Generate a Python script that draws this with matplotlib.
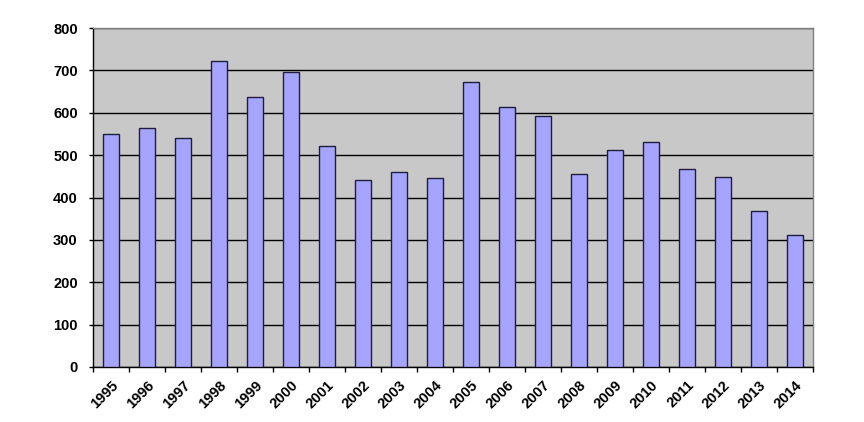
import matplotlib
matplotlib.use("Agg")
import matplotlib.pyplot as plt
import numpy as np

years = ["1995", "1996", "1997", "1998", "1999", "2000", "2001", "2002", "2003", "2004",
         "2005", "2006", "2007", "2008", "2009", "2010", "2011", "2012", "2013", "2014"]
values = [550, 565, 540, 722, 638, 695, 521, 441, 459, 445,
          673, 614, 593, 455, 513, 531, 468, 448, 368, 312]
yticks = [0, 100, 200, 300, 400, 500, 600, 700, 800]

plt.rcParams['font.family'] = ['Liberation Sans', 'DejaVu Sans']

fig = plt.figure(figsize=(8.64, 4.22), dpi=100)
ax = fig.add_axes([93/864, 1-367/422, 720/864, 339/422])
ax.set_facecolor('#C8C8C8')

x = np.arange(len(years))
ax.bar(x, values, width=0.42, color='#A5A5FF', edgecolor='#1E1E3C', linewidth=1.0, zorder=3)

ax.set_xlim(-0.5, len(years) - 0.5)
ax.set_ylim(0, 800)
ax.set_yticks(yticks)
ax.set_yticklabels([str(v) for v in yticks], fontsize=10.5, fontweight='bold')
ax.yaxis.grid(True, color='black', linewidth=1.0, zorder=1)
ax.set_axisbelow(True)

ax.set_xticks(x)
ax.set_xticklabels(years, rotation=45, ha='right', rotation_mode='anchor',
                   fontsize=10.5, fontweight='bold')
ax.tick_params(axis='x', which='major', length=0, pad=8)
ax.set_xticks(np.arange(-0.5, len(years)), minor=True)
ax.tick_params(axis='x', which='minor', length=3.5, width=1, color='black', direction='out')
ax.tick_params(axis='y', length=3, width=1, color='black', direction='out', pad=8)

for s in ['top', 'right']:
    ax.spines[s].set_color('#808080')
    ax.spines[s].set_linewidth(1.0)
for s in ['left', 'bottom']:
    ax.spines[s].set_color('black')
    ax.spines[s].set_linewidth(1.0)

fig.savefig('out.png', dpi=100)
